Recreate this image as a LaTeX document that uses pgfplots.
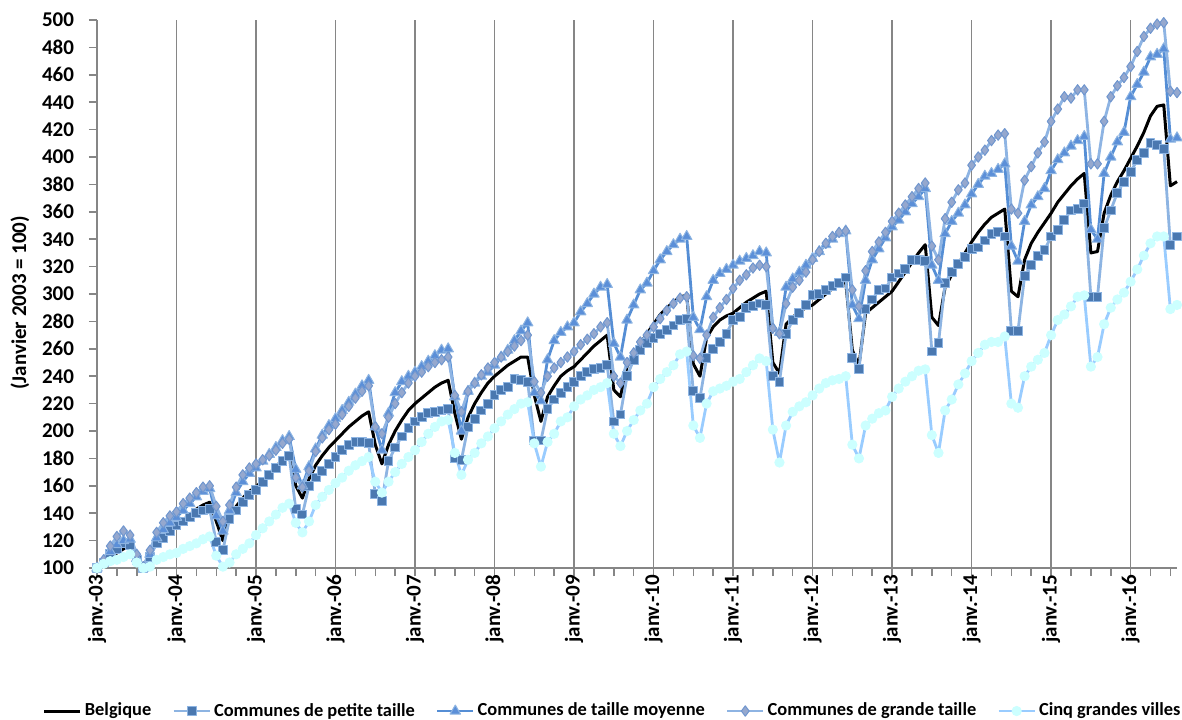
\documentclass[border=0pt]{standalone}
\usepackage{pgfplots}
\pgfplotsset{compat=1.18}
\usepackage{pgfplotstable}
\usepackage{fontspec}
\setmainfont{Carlito}
\definecolor{sqline}{HTML}{8DB4E2}
\definecolor{sqfill}{HTML}{4A78B0}
\definecolor{trline}{HTML}{558ED5}
\definecolor{trfill}{HTML}{5B8FD8}
\definecolor{diline}{HTML}{8EB4E3}
\definecolor{difill}{HTML}{95A8CE}
\definecolor{diedge}{HTML}{6F96CF}
\definecolor{cyline}{HTML}{99CCFF}
\definecolor{cyfill}{HTML}{CCFFFF}
\definecolor{gridc}{HTML}{868686}

\pgfplotstableread{
m B S T D C
0 100 100 100 100 100
1 103 104 105 106 103
2 107 110 112 116 105
3 111 114 117 123 106
4 114 118 120 127 108
5 116 117 121 124 110
6 108 106 107 110 104
7 101 100 100 101 100
8 110 108 110 113 101
9 119 118 122 126 106
10 124 122 128 133 108
11 128 127 133 138 110
12 131 131 137 141 111
13 135 134 142 147 114
14 139 137 147 151 116
15 143 140 152 155 118
16 146 142 156 159 121
17 148 143 158 160 123
18 134 119 138 145 109
19 120 113 127 134 101
20 137 136 142 146 104
21 145 142 155 159 110
22 151 148 163 168 114
23 156 153 169 173 118
24 159 157 173 176 124
25 164 163 178 179 129
26 169 168 183 182 134
27 174 173 188 186 139
28 179 178 193 191 144
29 183 182 196 194 147
30 160 143 172 166 133
31 151 139 160 159 126
32 165 160 174 171 134
33 175 166 187 185 146
34 182 171 197 195 152
35 188 176 204 201 157
36 193 181 209 205 162
37 198 186 215 212 166
38 203 190 221 218 171
39 207 192 227 224 175
40 211 192 233 229 178
41 214 191 237 233 181
42 190 154 203 203 163
43 176 149 186 198 155
44 190 178 213 210 163
45 200 188 228 220 170
46 208 196 236 228 176
47 215 202 240 235 181
48 220 207 243 240 186
49 224 210 247 243 192
50 228 213 251 247 198
51 232 214 255 250 203
52 235 215 259 252 207
53 237 216 260 254 208
54 213 180 225 226 184
55 194 179 200 214 168
56 210 203 229 229 179
57 220 209 235 235 184
58 228 215 240 241 191
59 235 220 243 246 196
60 240 226 248 250 202
61 244 230 254 254 207
62 248 232 259 258 212
63 251 238 266 262 216
64 254 237 273 266 220
65 254 236 279 270 221
66 226 193 228 236 191
67 207 193 222 228 174
68 225 216 252 240 192
69 233 223 266 246 198
70 240 228 272 250 207
71 244 232 276 254 210
72 247 236 279 258 218
73 252 240 287 263 223
74 257 243 293 267 226
75 262 245 300 271 230
76 266 246 305 276 232
77 270 248 307 279 235
78 230 207 264 240 198
79 225 212 254 235 189
80 247 240 281 250 200
81 256 252 292 257 208
82 264 259 303 265 215
83 271 264 308 270 220
84 278 268 317 276 232
85 285 271 325 282 238
86 290 274 331 288 243
87 294 277 336 293 248
88 298 281 340 297 256
89 299 282 342 298 258
90 249 229 283 255 204
91 240 224 274 253 195
92 268 253 298 270 220
93 276 260 310 283 229
94 281 265 315 290 231
95 284 271 318 296 233
96 286 281 321 304 236
97 290 283 324 310 238
98 294 290 326 314 243
99 297 291 328 319 248
100 300 293 331 321 253
101 302 292 330 320 251
102 250 240 275 275 201
103 242 236 272 271 177
104 278 271 305 293 204
105 283 281 311 305 214
106 287 286 316 310 218
107 290 292 321 316 221
108 292 299 326 325 226
109 296 300 331 331 231
110 300 303 336 337 235
111 304 306 340 342 237
112 307 308 344 345 238
113 309 312 346 346 240
114 259 253 292 303 190
115 248 245 282 291 180
116 286 289 310 317 204
117 290 296 325 331 209
118 294 303 333 338 213
119 298 304 341 345 215
120 302 312 349 353 225
121 309 315 354 359 231
122 316 318 360 365 236
123 323 325 366 371 240
124 330 325 371 377 244
125 336 324 377 381 245
126 283 258 321 335 197
127 277 264 310 325 184
128 305 308 344 355 215
129 314 316 353 367 223
130 322 322 359 376 234
131 330 327 365 381 242
132 338 333 373 394 251
133 345 334 380 400 257
134 351 339 386 405 263
135 356 344 388 412 265
136 359 345 391 416 265
137 362 342 395 417 269
138 302 273 335 362 220
139 298 273 324 359 217
140 325 313 353 383 240
141 337 321 365 393 247
142 345 328 371 403 252
143 352 332 377 411 257
144 359 342 390 426 270
145 367 347 398 435 281
146 373 354 403 444 285
147 379 361 408 443 291
148 384 362 412 449 298
149 388 366 415 449 299
150 330 298 347 395 247
151 331 298 340 395 254
152 359 348 388 426 278
153 372 361 400 444 290
154 382 374 411 452 296
155 390 382 418 458 301
156 399 389 444 466 309
157 408 398 453 477 318
158 418 403 462 488 328
159 430 410 473 494 337
160 437 409 475 497 342
161 438 406 479 498 342
162 379 336 413 448 289
163 382 342 414 447 292
}\data

\begin{document}
\begin{tikzpicture}
\useasboundingbox (-48.5pt,-75.5pt) rectangle (542.5pt,284pt);
\begin{axis}[
  at={(0,0)}, anchor=south west,
  scale only axis, width=540pt, height=274pt,
  xmin=0, xmax=163, ymin=100, ymax=500,
  clip=false,
  axis x line*=bottom, axis y line*=left,
  axis line style={gridc, line width=0.75pt, -},
  xtick={0,12,...,156},
  xticklabels={janv.-03,janv.-04,janv.-05,janv.-06,janv.-07,janv.-08,janv.-09,janv.-10,janv.-11,janv.-12,janv.-13,janv.-14,janv.-15,janv.-16},
  minor xtick={3,6,...,162},
  ytick={100,120,...,500},
  xmajorgrids,
  major x grid style={gridc, line width=0.75pt},
  tick align=outside,
  major tick length=4pt, minor tick length=4pt,
  tick style={gridc, line width=0.75pt},
  every tick/.style={gridc, line width=0.75pt},
  /pgf/number format/assume math mode=true,
  ticklabel style={font=\bfseries\fontsize{10.5}{12}\selectfont},
  xticklabel style={rotate=90, anchor=east},
  xticklabel shift=-4pt,
  yticklabel shift=4pt,
  ylabel={(Janvier 2003 = 100)},
  ylabel style={font=\bfseries\fontsize{10.5}{12}\selectfont, at={(axis description cs:-0.0713,0.484)}, anchor=center},
  legend columns=5,
  legend style={at={(axis description cs:0.478,-0.261)}, anchor=center, draw=none, fill=none,
    font=\bfseries\fontsize{9.2}{11}\selectfont,
    inner sep=0pt,
    nodes={inner xsep=1.5pt},
    /tikz/every even column/.append style={column sep=9pt}},
  legend image code/.code={%
    \draw[mark repeat=2,mark phase=2] plot coordinates {(0pt,0pt) (9pt,0pt) (18pt,0pt)};},
  line join=round,
]
\addplot[black, line width=1.5pt, no markers] table[x=m,y=B] {\data};
\addlegendentry{Belgique}
\addplot[sqline, line width=1.4pt, mark=square*, mark size=2.2pt, mark options={fill=sqfill, draw=sqline, line width=0.5pt, solid}] table[x=m,y=S] {\data};
\addlegendentry{Communes de petite taille}
\addplot[trline, line width=1.4pt, mark=triangle*, mark size=3pt, mark options={fill=trfill, draw=sqline, line width=0.5pt, solid}] table[x=m,y=T] {\data};
\addlegendentry{Communes de taille moyenne}
\addplot[diline, line width=1.4pt, mark=diamond*, mark size=2.6pt, mark options={fill=difill, draw=diedge, line width=0.5pt, solid}] table[x=m,y=D] {\data};
\addlegendentry{Communes de grande taille}
\addplot[cyline, line width=1.4pt, mark=*, mark size=2.3pt, mark options={fill=cyfill, draw=cyfill, line width=0.5pt, solid}] table[x=m,y=C] {\data};
\addlegendentry{Cinq grandes villes}
\end{axis}
\end{tikzpicture}
\end{document}
